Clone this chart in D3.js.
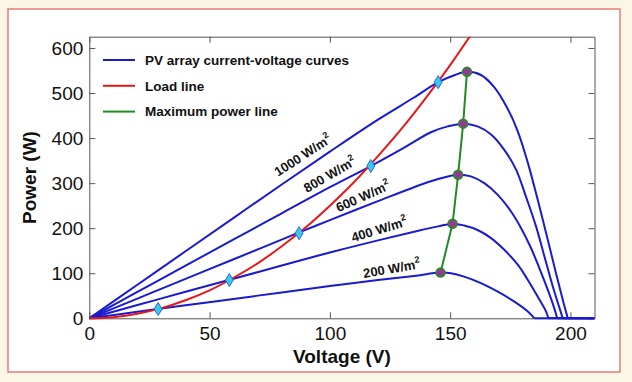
<!doctype html>
<meta charset="utf-8">
<style>
 body { margin: 0; background: #fbf7e6; }
 svg { display: block; font-family: "Liberation Sans", Arial, sans-serif; }
 .axis text { font-size: 19px; fill: #111; }
 .axis path, .axis line { stroke: #555; }
 .title { font-size: 19px; font-weight: bold; fill: #111; }
 .legend text { font-size: 13.5px; font-weight: bold; fill: #111; }
 .curve-label { font-size: 13px; font-weight: bold; fill: #111; }
</style>

<svg width="632" height="382"></svg>

<script src="https://d3js.org/d3.v7.min.js"></script>
<script>
 // Data (V in volts, P in watts)
 var irradiance = [200, 400, 600, 800, 1000];

 var volts200 = [0, 20, 40, 60, 80, 100, 120, 135, 146, 150.3, 155.8, 162.8, 169.8, 176.7, 182.3, 185, 210];
 var power200 = [0, 14.4, 28.8, 43, 57.5, 71.5, 85, 94, 101.4, 100, 92.5, 78, 59, 37, 15, 0, 0];

 var volts400 = [0, 20, 40, 58, 80, 100, 120, 135, 145, 151, 155.8, 161.4, 167, 172.5, 178.1, 182.3, 186.4, 189.9, 190.8, 210];
 var power400 = [0, 29.4, 58.8, 85, 117, 146, 173, 192, 204, 210, 206, 196, 178, 152, 119, 85, 48, 15, 0, 0];

 var volts600 = [0, 20, 40, 60, 87, 100, 120, 135, 145, 153.3, 158.6, 164.2, 169.8, 175.3, 179.5, 183.6, 187.1, 190.6, 193.3, 194.5, 210];
 var power600 = [0, 43.8, 87.6, 131, 190, 218, 260, 291, 309, 318.5, 315, 300, 274, 237, 200, 156, 111, 63, 22, 0, 0];

 var volts800 = [0, 20, 40, 60, 80, 100, 117, 130, 142, 149, 155.4, 161.4, 167, 172.5, 177.4, 181.5, 185.7, 189.2, 192.7, 195.5, 196.8, 210];
 var power800 = [0, 58.4, 116.8, 175, 233, 291, 338, 376, 413, 426, 432, 426, 408, 374, 330, 270, 204, 137, 70, 22, 0, 0];

 var volts1000 = [0, 20, 40, 60, 80, 100, 120, 135, 145, 152, 157, 162.8, 168.3, 173.9, 178.1, 182.3, 186.4, 190.6, 194, 196.8, 198.9, 210];
 var power1000 = [0, 74.4, 148.8, 223, 297, 370, 441, 490, 524, 540, 547, 540, 513, 465, 415, 345, 263, 174, 100, 41, 0, 0];

 var loadVolts = [0, 10, 20, 30, 40, 50, 60, 70, 80, 90, 100, 110, 120, 130, 140, 150, 160];
 var loadPower = [0, 2.5, 10, 22.5, 40, 62, 90, 122, 160, 202, 250, 302, 360, 422, 490, 562, 640];

 // operating points where load line crosses each curve
 var opVolts = [28.6, 58.2, 87.2, 117, 145];
 var opPower = [20.5, 85, 189, 338, 524];

 // maximum power points
 var mppVolts = [146, 151, 153.3, 155.4, 157];
 var mppPower = [101.4, 210, 318.5, 432, 547];

 var xTicks = [0, 50, 100, 150, 200];
 var yTicks = [0, 100, 200, 300, 400, 500, 600];

 var legendLabels = ["PV array current-voltage curves", "Load line", "Maximum power line"];

 // label anchors along the curves (data units) and tilt
 var labelVolts = [125.8, 120.7, 114, 100.3, 89.1];
 var labelPower = [107, 194, 267.5, 316, 359];
 var labelAngle = [-10, -17, -24, -30, -33];

 var curves = [
   d3.zip(volts200, power200),
   d3.zip(volts400, power400),
   d3.zip(volts600, power600),
   d3.zip(volts800, power800),
   d3.zip(volts1000, power1000)
 ];

 var blue = "#1a1ad0", red = "#e81818", green = "#1e8c1e";

 var svg = d3.select("svg");
 var width = +svg.attr("width");
 var height = +svg.attr("height");
 var plot = { left: 89.3, right: 594.5, top: 36.7, bottom: 318.3 };

 // white panel with red frame
 svg.append("rect")
   .attr("x", 8).attr("y", 9).attr("width", 612).attr("height", 363)
   .attr("fill", "#fff").attr("stroke", "#e77b7b").attr("stroke-width", 1.5);

 var x = d3.scaleLinear().domain([0, 210]).range([plot.left, plot.right]);
 var y = d3.scaleLinear().domain([0, 625]).range([plot.bottom, plot.top]);

 svg.append("defs").append("clipPath").attr("id", "clip")
   .append("rect")
   .attr("x", plot.left).attr("y", plot.top)
   .attr("width", plot.right - plot.left).attr("height", plot.bottom - plot.top + 1.5);

 // axes (ticks inside, box style)
 svg.append("g").attr("class", "axis")
   .attr("transform", "translate(0," + plot.bottom + ")")
   .call(d3.axisBottom(x).tickValues(xTicks).tickSize(-6).tickSizeOuter(0).tickPadding(8));
 svg.append("g").attr("class", "axis")
   .attr("transform", "translate(0," + plot.top + ")")
   .call(d3.axisTop(x).tickValues(xTicks).tickSize(-6).tickSizeOuter(0).tickFormat(""));
 svg.append("g").attr("class", "axis")
   .attr("transform", "translate(" + plot.left + ",0)")
   .call(d3.axisLeft(y).tickValues(yTicks).tickSize(-6).tickSizeOuter(0).tickPadding(6));
 svg.append("g").attr("class", "axis")
   .attr("transform", "translate(" + plot.right + ",0)")
   .call(d3.axisRight(y).tickValues(yTicks).tickSize(-6).tickSizeOuter(0).tickFormat(""));

 svg.append("text").attr("class", "title")
   .attr("x", (plot.left + plot.right) / 2).attr("y", 363)
   .attr("text-anchor", "middle").text("Voltage (V)");
 svg.append("text").attr("class", "title")
   .attr("transform", "translate(36," + (plot.top + plot.bottom) / 2 + ") rotate(-90)")
   .attr("text-anchor", "middle").text("Power (W)");

 var smooth = d3.line()
   .x(function(d) { return x(d[0]); })
   .y(function(d) { return y(d[1]); })
   .curve(d3.curveCatmullRom.alpha(0.5));

 var line = d3.line()
   .x(function(d) { return x(d[0]); })
   .y(function(d) { return y(d[1]); });

 var g = svg.append("g").attr("clip-path", "url(#clip)");

 // smooth arch up to open-circuit voltage, then flat along zero
 curves.forEach(function(pts) {
   var arch = pts.slice(0, pts.length - 1);
   var tail = pts.slice(pts.length - 2);
   g.append("path").attr("d", smooth(arch))
     .attr("fill", "none").attr("stroke", blue).attr("stroke-width", 2);
   g.append("path").attr("d", line(tail))
     .attr("fill", "none").attr("stroke", blue).attr("stroke-width", 2);
 });

 g.append("path")
   .attr("d", smooth(d3.zip(loadVolts, loadPower)))
   .attr("fill", "none").attr("stroke", red).attr("stroke-width", 2);

 g.append("path")
   .attr("d", line(d3.zip(mppVolts, mppPower)))
   .attr("fill", "none").attr("stroke", green).attr("stroke-width", 2);

 // operating points (diamonds)
 svg.selectAll(".op").data(d3.zip(opVolts, opPower)).enter().append("path")
   .attr("class", "op")
   .attr("transform", function(d) { return "translate(" + x(d[0]) + "," + y(d[1]) + ")"; })
   .attr("d", "M0,-6.5L4,0L0,6.5L-4,0Z")
   .attr("fill", "#38c8ee").attr("stroke", "#2a6ad8").attr("stroke-width", 1);

 // maximum power points
 svg.selectAll(".mpp").data(d3.zip(mppVolts, mppPower)).enter().append("circle")
   .attr("class", "mpp")
   .attr("cx", function(d) { return x(d[0]); })
   .attr("cy", function(d) { return y(d[1]); })
   .attr("r", 4)
   .attr("fill", "#b422b4").attr("stroke", "#3c7c3c").attr("stroke-width", 2.5);

 // irradiance labels
 svg.selectAll(".curve-label").data(irradiance).enter().append("text")
   .attr("class", "curve-label")
   .attr("text-anchor", "middle")
   .attr("dominant-baseline", "middle")
   .attr("transform", function(d, i) {
     return "translate(" + x(labelVolts[i]) + "," + y(labelPower[i]) + ") rotate(" + labelAngle[i] + ")";
   })
   .each(function(d) {
     var t = d3.select(this);
     t.append("tspan").text(d + " W/m");
     t.append("tspan").attr("dy", -5).attr("font-size", "9px").text("2");
   });

 // legend
 var legendColors = [blue, red, green];
 var legend = svg.append("g").attr("class", "legend");
 legendLabels.forEach(function(label, i) {
   var ly = 60 + i * 25.8;
   legend.append("line")
     .attr("x1", 103).attr("x2", 135).attr("y1", ly).attr("y2", ly)
     .attr("stroke", legendColors[i]).attr("stroke-width", 2);
   legend.append("text")
     .attr("x", 145).attr("y", ly).attr("dy", "0.35em").text(label);
 });
</script>
